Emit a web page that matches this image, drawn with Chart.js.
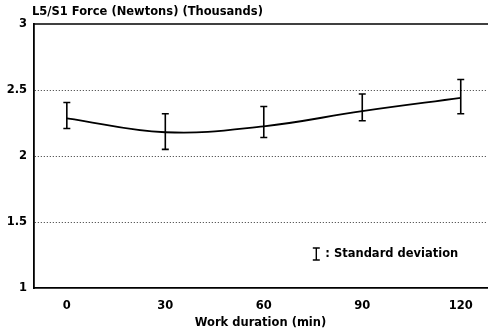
<!DOCTYPE html>
<html>
<head>
<meta charset="utf-8">
<script src="https://cdn.jsdelivr.net/npm/chart.js@4.4.1/dist/chart.umd.min.js"></script>
<style>
  html, body { margin: 0; padding: 0; background: #fff; }
  #wrap { width: 488px; height: 330px; position: relative; }
</style>
</head>
<body>
<div id="wrap"><canvas id="js-chart-force"></canvas></div>
<script>
// Chart data
const workMinutes = [0, 30, 60, 90, 120];
const forceMean = [2.285, 2.18, 2.225, 2.34, 2.44];
const forceUpper = [2.405, 2.32, 2.375, 2.47, 2.58];
const forceLower = [2.208, 2.05, 2.14, 2.267, 2.32];
const xTickValues = [0, 30, 60, 90, 120];
const yTickValues = [1, 1.5, 2, 2.5, 3];

const chartTitle = "L5/S1 Force (Newtons) (Thousands)";
const xAxisTitle = "Work duration (min)";
const legendText = ": Standard deviation";

const FONT = "'DejaVu Sans', Verdana, sans-serif";
const FONT_SIZE = 11.5;

// Draw an error bar (vertical line with caps)
function drawBar(ctx, x, yTop, yBottom, cap) {
  ctx.beginPath();
  ctx.moveTo(x, yTop);
  ctx.lineTo(x, yBottom);
  ctx.moveTo(x - cap, yTop);
  ctx.lineTo(x + cap, yTop);
  ctx.moveTo(x - cap, yBottom);
  ctx.lineTo(x + cap, yBottom);
  ctx.stroke();
}

// Error bars, title, top frame and legend note
const extrasPlugin = {
  id: "extras",
  afterDatasetsDraw(chart) {
    const { ctx, chartArea, scales } = chart;
    ctx.save();
    ctx.strokeStyle = "#000";
    ctx.lineWidth = 1.6;
    for (let i = 0; i < workMinutes.length; i++) {
      const x = scales.x.getPixelForValue(workMinutes[i]);
      drawBar(ctx, x, scales.y.getPixelForValue(forceUpper[i]),
        scales.y.getPixelForValue(forceLower[i]), 3.5);
    }
    // top frame line
    ctx.lineWidth = 1.5;
    ctx.beginPath();
    ctx.moveTo(chartArea.left, chartArea.top);
    ctx.lineTo(chartArea.right + 1, chartArea.top);
    ctx.stroke();

    // title
    ctx.fillStyle = "#000";
    ctx.font = "bold " + FONT_SIZE + "px " + FONT;
    ctx.textAlign = "left";
    ctx.textBaseline = "middle";
    ctx.fillText(chartTitle, chartArea.left - 2, 12);

    // legend note
    const lx = scales.x.getPixelForValue(76);
    const ly = scales.y.getPixelForValue(1.258);
    ctx.lineWidth = 1.4;
    drawBar(ctx, lx, ly - 6, ly + 6, 3.5);
    ctx.fillText(legendText, lx + 9, ly);
    ctx.restore();
  },
};

const chartCon = document.getElementById("js-chart-force");

new Chart(chartCon, {
  type: "line",
  data: {
    datasets: [
      {
        label: "L5/S1 Force",
        data: workMinutes.map((m, i) => ({ x: m, y: forceMean[i] })),
        borderColor: "#000",
        borderWidth: 1.8,
        pointRadius: 0,
        tension: 0.4,
        fill: false,
      },
    ],
  },
  options: {
    responsive: true,
    maintainAspectRatio: false,
    animation: false,
    layout: {
      padding: { top: 24, right: 1, bottom: 0, left: 0 },
    },
    scales: {
      x: {
        type: "linear",
        min: -10,
        max: 128,
        afterBuildTicks: (scale) => {
          scale.ticks = xTickValues.map((v) => ({ value: v }));
        },
        afterFit: (scale) => {
          scale.height = 42;
        },
        grid: { display: false, drawTicks: false },
        border: { display: true, color: "#000", width: 1.8 },
        ticks: {
          color: "#000",
          padding: 11,
          maxRotation: 0,
          font: { family: FONT, size: FONT_SIZE, weight: "bold" },
        },
        title: {
          display: true,
          text: xAxisTitle,
          color: "#000",
          padding: { top: 3, bottom: 0 },
          font: { family: FONT, size: FONT_SIZE, weight: "bold" },
        },
      },
      y: {
        min: 1,
        max: 3,
        afterBuildTicks: (scale) => {
          scale.ticks = yTickValues.map((v) => ({ value: v }));
        },
        afterFit: (scale) => {
          scale.width = 34;
        },
        grid: {
          drawTicks: false,
          lineWidth: 1,
          color: (ctx) =>
            ctx.tick && (ctx.tick.value === 1 || ctx.tick.value === 3)
              ? "rgba(0,0,0,0)"
              : "#333",
        },
        border: { display: true, color: "#000", width: 1.8, dash: [1, 2] },
        ticks: {
          color: "#000",
          padding: 7,
          callback: (value) => String(value),
          font: { family: FONT, size: FONT_SIZE, weight: "bold" },
        },
      },
    },
    plugins: {
      legend: { display: false },
      tooltip: { enabled: false },
    },
  },
  plugins: [extrasPlugin],
});
</script>
</body>
</html>
